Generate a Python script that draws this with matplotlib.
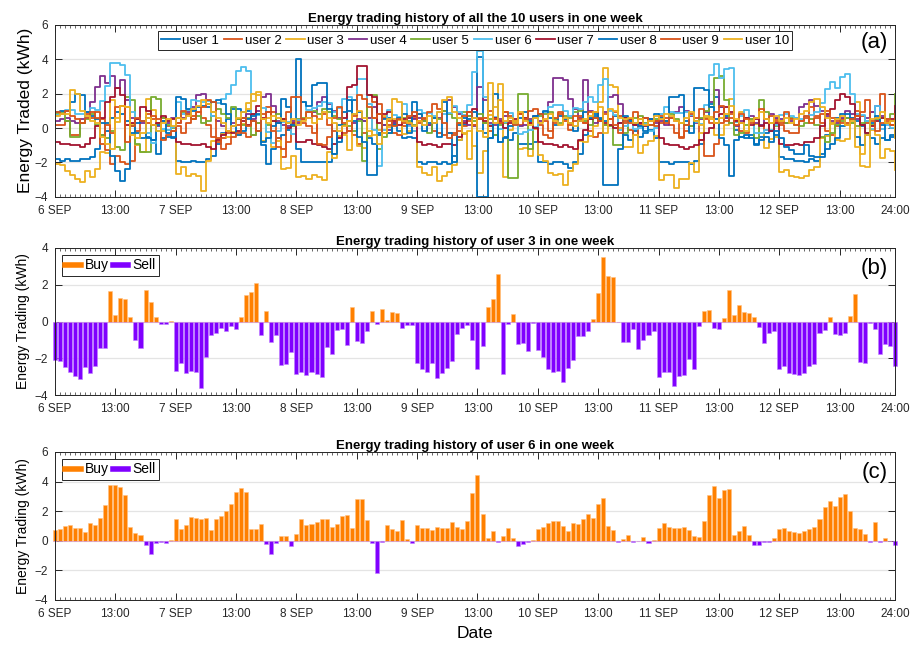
import numpy as np
import matplotlib.pyplot as plt
from matplotlib.lines import Line2D

plt.rcParams['font.family'] = ['Liberation Sans', 'DejaVu Sans']

# ---- data: hourly energy traded (kWh), 6 SEP 00:00 .. 12 SEP 23:00 ----
user3 = [
    -2.09, -2.15, -2.5, -2.73, -2.95, -3.15, -2.5, -2.82, -2.4, -1.42, -1.45, 1.64, 0.33, 1.27, 1.22, 0.25, -1.0, -1.42, 1.69, 1.04, 0.25, -0.15, -0.11, 0.04,
    -2.69, -2.27, -2.8, -2.69, -2.76, -3.64, -1.91, -0.73, -0.64, -0.33, -0.53, -0.25, -0.4, 0.25, 1.45, 1.58, 2.09, -0.75, 0.58, -1.13, -0.75, -2.38, -2.31, -1.64,
    -2.87, -2.76, -2.93, -2.75, -2.84, -3.04, -1.38, -1.76, -0.44, -0.42, -1.29, 0.8, -1.04, -1.18, -0.49, 0.58, -0.13, 0.69, 0.07, 0.53, 0.44, -0.36, -0.2, -0.18,
    -2.27, -2.6, -2.75, -2.25, -3.05, -2.78, -2.55, -2.13, -0.69, -0.33, -0.18, -1.02, -2.6, -1.36, 0.78, 1.24, 2.58, -2.87, -0.11, 0.42, -1.2, -1.16, -1.62, -0.07,
    -1.55, -1.91, -2.6, -2.73, -2.67, -3.29, -2.51, -2.07, -0.78, -0.8, -0.49, 0.11, 1.53, 3.49, 2.47, 2.4, 0.0, -1.09, -1.13, -0.4, -1.47, -1.0, -0.73, -0.49,
    -3.04, -2.75, -2.75, -3.49, -2.95, -2.93, -2.02, -2.58, -0.27, 0.58, 0.64, -0.38, -0.4, 0.2, 1.71, 0.35, 0.91, 0.53, 0.47, 0.25, -0.31, -1.15, -0.64, -0.53,
    -2.58, -2.44, -2.78, -2.87, -2.89, -2.78, -2.42, -2.29, -0.6, -0.47, 0.25, -0.67, -0.76, -0.62, 0.31, 1.49, -2.2, -2.25, -0.09, -0.4, -1.75, -1.2, -1.33, -2.42,
]
user6 = [
    0.73, 0.8, 1.02, 1.07, 0.84, 0.84, 0.59, 1.18, 1.07, 1.55, 2.41, 3.77, 3.77, 3.66, 3.07, 0.93, 0.55, 0.41, -0.27, -0.89, -0.18, -0.07, -0.14, 0.07,
    1.5, 0.8, 1.05, 1.64, 1.57, 1.5, 1.57, 0.7, 1.45, 1.7, 2.0, 2.5, 3.32, 3.55, 3.32, 0.82, 0.77, 1.16, -0.23, -0.89, -0.16, 0.34, 0.32, -0.32,
    0.48, 1.5, 1.07, 1.16, 1.3, 1.48, 1.45, 0.93, 1.14, 1.7, 1.77, 0.84, 2.84, 2.84, 1.39, -0.14, -2.2, -0.09, 1.07, 0.77, 0.64, 1.39, 0.11, -0.18,
    1.05, 0.86, 0.89, 0.7, 0.91, 0.84, 0.89, 1.25, 0.91, 0.77, 1.34, 3.23, 4.45, 1.8, 0.16, 0.66, -0.07, 0.32, 0.89, 0.18, -0.32, -0.23, -0.11, 0.05,
    0.8, 0.93, 1.23, 1.34, 1.34, 1.0, 0.68, 1.18, 1.11, 1.5, 1.82, 1.52, 2.48, 2.86, 1.0, 0.75, -0.09, 0.09, 0.41, -0.07, 0.0, 0.23, -0.16, 0.02,
    0.84, 1.23, 0.95, 0.86, 0.86, 0.91, 0.73, 0.34, 0.25, 1.32, 3.09, 3.7, 2.91, 3.45, 3.48, 0.36, 0.68, 1.02, 0.41, -0.27, -0.27, -0.11, -0.09, 0.16,
    0.77, 0.84, 0.68, 0.59, 0.55, 0.68, 0.77, 0.93, 1.45, 2.25, 2.66, 2.34, 2.98, 3.14, 2.0, 0.84, 0.77, 0.43, -0.05, 1.25, -0.07, 0.2, 0.0, -0.27,
]
user1 = [
    -1.8, -1.9, -1.8, -1.9, -1.9, -1.8, -1.8, -1.7, -1.2, -0.4, 0.3, 0.6, 0.9, 0.8, 0.4, 0.1, -0.3, -0.6, -0.5, -0.7, -1.5, -0.6, -0.5, -0.6,
    -1.9, -2.0, -2.0, -1.9, -2.0, -2.0, -1.8, -1.6, -0.9, -0.3, 0.5, 1.1, 1.1, 0.9, 1.0, 0.4, -0.2, -1.0, -2.1, -1.2, -0.6, -0.4, -0.1, 0.1,
    -1.2, -2.0, -2.0, -2.0, -2.0, -2.0, -2.0, -1.5, -0.8, 0.2, 1.0, 1.6, 0.9, 0.4, -0.6, -0.9, -0.3, 0.2, 0.6, 0.3, -0.2, -0.6, -0.5, -0.6,
    -2.0, -2.1, -2.0, -2.0, -2.1, -2.0, -2.1, -1.6, -0.7, 0.2, 0.7, 0.6, 4.1, -0.3, -0.6, -0.4, -0.8, -0.5, -0.7, -0.3, -0.9, -0.9, -0.9, -0.8,
    -2.0, -2.0, -2.1, -2.0, -2.0, -2.1, -2.3, -2.0, -1.5, -0.4, 0.5, 0.7, 0.6, 0.4, 0.5, 0.7, 0.3, -0.4, -0.7, -0.2, -0.5, -0.3, -0.1, -0.6,
    -2.0, -2.0, -2.1, -2.0, -2.0, -2.0, -2.1, -1.9, -0.9, 0.6, 1.4, 1.8, 1.2, 0.7, 0.3, -0.1, -0.5, -0.6, -0.4, -0.9, -0.5, -0.3, -0.2, -0.4,
    -1.7, -1.8, -1.8, -1.9, -1.9, -2.0, -1.8, -1.9, -1.5, -0.4, 0.3, 0.6, 0.8, 0.6, 0.5, 0.4, 0.1, -0.3, -0.6, -0.9, -0.6, -0.7, -0.5, -0.3,
]
user2 = [
    0.2, 0.2, 0.4, -0.4, -0.4, 0.3, 0.8, 0.6, 0.9, 0.5, -1.3, -2.1, -1.6, -2.0, -2.1, -1.9, -0.2, 0.4, 0.8, 0.5, 0.3, 0.6, 0.1, -0.2,
    0.1, -0.3, 0.3, 0.7, 0.9, 0.6, 0.2, -0.5, -0.8, -0.6, -0.3, 0.1, 0.2, -0.3, -0.5, -0.4, 0.3, 0.8, 1.2, 0.9, -0.6, -1.7, -0.8, 0.2,
    0.4, 0.3, 0.1, -0.3, 0.5, 0.8, 0.2, -0.2, -0.5, -0.3, 0.4, -0.4, -0.9, -0.3, 1.9, 1.5, 1.4, 0.6, 0.2, -0.3, -0.4, 0.1, 0.3, 0.6,
    0.3, 0.5, 0.2, -0.2, -0.3, -0.4, -0.3, -0.3, -0.2, 0.1, 0.4, 0.2, 0.6, 0.3, -0.2, 0.5, 0.3, 0.9, 0.7, 0.4, 0.2, 0.5, 0.3, 0.0,
    0.2, -0.4, -0.6, 0.3, 0.8, 0.5, -0.1, 0.4, 0.7, 0.3, -0.2, -0.5, -0.3, 0.2, 0.5, 0.9, 0.7, 0.3, -0.1, -0.4, 0.2, 0.6, 0.4, 0.1,
    0.3, 0.6, 0.2, -0.3, -0.5, -0.2, 0.1, 0.4, -0.7, -1.6, -1.6, -0.9, 0.3, 0.6, 0.8, 0.4, -0.2, -0.3, 0.5, 0.6, 0.2, -0.1, 0.3, 0.5,
    0.2, -0.2, -0.3, -0.3, 0.4, 0.6, 1.2, 0.7, 0.3, -0.2, -0.4, 0.1, 0.5, 0.3, 0.6, 1.0, 0.7, 0.3, 0.9, 0.6, 2.0, 0.4, 0.2, 0.6,
]
user4 = [
    0.4, 0.5, 0.6, 0.4, 0.3, 0.5, 0.9, 1.5, 2.4, 3.0, 2.6, 3.0, 2.3, 2.8, 1.6, 0.6, 0.5, 0.3, 0.6, 0.2, 0.1, 0.4, 0.3, 0.6,
    0.3, 0.6, 0.9, 1.2, 1.9, 2.0, 1.4, 0.7, 0.4, 0.1, -0.2, 0.3, 0.5, 0.6, 0.8, 0.5, 1.0, 1.8, 2.0, 1.3, 0.4, 0.2, 0.1, 0.4,
    0.3, 0.5, 0.6, 0.9, 1.5, 1.8, 1.4, 1.0, 0.6, 0.2, -0.2, 0.3, 0.5, 0.4, 0.6, 1.2, 0.8, 0.2, -0.1, 0.3, 0.6, 0.4, 0.2, 0.5,
    0.6, 0.4, 0.2, 0.3, 0.6, 1.0, 1.6, 1.2, 0.8, 0.4, 0.2, 0.1, 2.4, 1.6, 0.3, 0.2, 0.5, 0.7, 0.4, 0.3, 0.1, 0.2, 0.5, 0.7,
    0.4, 0.9, 1.5, 2.9, 2.9, 2.8, 1.7, 1.1, 0.6, 2.8, 1.0, 0.3, 0.5, 0.9, 1.8, 1.9, 1.4, 0.6, 0.4, 0.2, 0.3, 0.6, 0.5, 0.3,
    0.4, 0.2, 0.6, 0.9, 1.2, 1.0, 0.7, 0.3, 0.5, 0.9, 1.5, 2.2, 1.2, 0.6, 0.3, 0.1, 0.4, 0.6, 0.7, 0.3, 0.2, 0.5, 0.8, 0.6,
    0.5, 0.3, 0.4, 0.6, 1.2, 1.4, 1.6, 1.3, 1.0, 0.7, 0.4, 0.3, 0.6, 1.0, 0.8, 0.5, 0.2, 0.6, 0.9, 1.3, 0.7, 0.5, 0.4, 0.6,
]
user5 = [
    0.8, 0.9, 0.4, -0.5, -0.5, 0.3, 0.5, 0.8, 0.2, -0.4, -0.6, -0.2, -1.1, -1.3, 1.8, 1.6, -0.9, -1.4, -1.4, 1.8, 1.7, 0.6, 0.2, 0.0,
    0.6, 0.9, 0.8, 0.5, 0.7, 0.3, 0.4, 0.9, 1.1, 0.8, 0.6, 1.2, 0.5, 0.2, 0.6, -0.4, 0.3, 0.5, 0.2, 0.4, 0.8, 0.5, 0.3, 0.1,
    0.5, 0.6, 0.9, 1.0, 0.8, 1.1, 0.9, 0.7, 0.5, 0.2, 0.1, -0.2, 0.4, -1.9, 1.9, 1.9, -1.2, -0.5, -0.3, 0.2, 0.5, 0.6, 0.4, 0.2,
    0.8, 0.4, -0.3, 0.6, 0.5, 1.0, 0.8, 0.6, 0.3, 0.9, 0.7, 0.4, 0.8, 0.3, 0.5, -0.4, 0.2, 0.3, -2.9, -2.9, 2.0, 2.0, -1.2, 0.6,
    0.7, 0.8, 0.9, 0.5, 0.3, 0.7, 0.6, 0.9, 1.0, 0.4, 0.2, 0.6, 0.5, 0.2, 0.1, -1.0, -1.0, -0.3, 0.4, 0.6, 0.7, 0.3, 0.2, 0.5,
    0.6, 0.4, 0.8, 0.5, 0.3, 0.2, 0.1, 0.4, 0.6, 1.0, 1.2, 2.9, 3.0, 1.6, 0.3, -0.4, -0.3, 0.2, 0.5, -0.6, 1.6, 0.9, 0.3, 0.1,
    0.4, 0.3, 0.6, 0.2, 0.1, 0.3, 0.5, 0.2, -0.5, -0.8, -0.3, 0.2, 0.4, 0.6, 0.3, 0.1, 0.3, 0.4, 0.2, 0.5, 0.6, 0.3, 0.8, 2.0,
]
user7 = [
    -0.8, -0.9, -0.9, -1.0, -1.0, -1.1, -0.9, -0.6, 0.1, 0.6, 1.5, 1.8, 2.3, 1.9, 0.2, 0.3, 0.5, 1.2, 1.0, 0.2, 0.3, 0.7, 0.4, 0.5,
    -0.8, -0.9, -0.9, -1.0, -1.0, -0.9, -1.1, -1.2, -0.7, -0.4, -0.2, -0.3, -0.2, 0.4, 0.2, 0.8, 1.3, 0.6, 0.9, 0.4, 0.3, 0.5, 0.0, 0.3,
    -0.8, -0.8, -0.7, -0.9, -1.0, -1.1, -1.2, -0.9, -0.6, 0.6, 2.4, 2.5, 3.6, 3.6, 1.9, 1.8, 0.3, 0.8, 0.9, 0.4, 0.2, 0.5, 0.6, 0.7,
    -0.8, -1.0, -0.9, -1.0, -1.1, -0.9, -0.9, -1.0, -0.5, 0.3, 0.9, 1.1, 0.5, 0.4, 0.1, 0.6, 0.4, 0.0, 0.3, 0.5, 0.8, 0.6, 0.3, 0.0,
    -0.8, -0.9, -0.9, -1.0, -1.1, -1.0, -1.1, -1.2, -0.7, -0.1, 0.5, 0.9, 0.4, 0.3, 0.2, 0.0, 0.3, 0.6, 0.5, 0.2, 0.3, 0.1, 0.5, 0.4,
    -0.6, -0.9, -1.0, -1.0, -1.1, -1.2, -1.1, -1.0, -0.7, -0.3, 0.0, 0.3, 0.8, 1.2, 0.9, 0.4, 0.3, 0.6, 0.2, 0.5, 0.1, 0.3, -0.2, 0.3,
    -0.9, -1.0, -1.0, -0.9, -1.0, -0.8, -0.8, -0.6, 0.1, 0.8, 1.1, 1.6, 2.0, 1.8, 1.4, 0.7, 0.2, -0.3, 0.1, 0.4, 0.6, 0.3, 0.5, 1.3,
]
user8 = [
    0.9, 1.0, 1.0, 1.5, 2.0, 1.9, 0.9, 0.7, 0.5, 0.3, -0.2, -1.6, -2.5, -3.1, -2.4, -0.3, 0.3, 0.4, -0.6, -0.7, 0.2, 0.4, -0.3, -0.5,
    1.8, 1.7, 1.1, 1.0, 1.2, 1.3, 1.2, 1.5, 1.6, 1.4, 0.8, 0.1, -0.4, -0.2, 0.5, 0.7, 0.8, -0.8, -0.6, 0.1, 0.3, 1.7, 1.2, 0.2,
    4.0, 1.5, 1.3, 2.5, 2.6, 2.6, 1.1, -1.5, 0.2, 0.9, 1.6, 0.4, -0.5, -0.8, -2.7, -2.7, -0.4, 0.5, -0.3, 0.2, 0.6, 0.8, -0.3, 1.5,
    0.8, -0.2, 0.3, 0.6, -0.5, 1.5, -0.3, -2.0, 0.2, 0.6, 0.5, 0.9, -4.0, -4.0, -0.6, 2.0, -0.8, -0.6, 0.1, 0.3, 0.6, 0.9, 0.4, 0.7,
    0.8, 1.0, 0.6, 0.2, 0.7, 0.5, 0.3, -0.2, 0.4, 0.9, 0.6, 0.8, 0.5, -3.3, -3.3, -3.3, -1.2, 0.7, 0.4, 0.3, 0.1, -0.2, 0.5, 0.8,
    0.6, 0.4, 1.8, 1.8, 1.9, 0.4, -0.3, 2.3, 2.3, 2.2, 1.2, 0.5, -0.6, -1.0, -2.8, -0.7, -0.5, -0.4, -0.6, -1.0, -0.7, -0.5, -0.8, -0.2,
    -0.6, -1.1, -1.3, -1.5, -1.5, -1.0, -1.6, -1.7, -1.7, -1.2, -0.9, -0.6, 0.1, 0.8, 0.6, -0.5, -1.0, -0.4, 0.3, 0.7, 0.2, -0.7, -0.4, -0.1,
]
user9 = [
    0.9, 0.8, 1.0, 0.7, 0.5, 0.3, 0.6, 0.9, 0.6, -0.9, 0.2, -0.3, 1.2, 1.3, -0.8, 0.1, 0.6, 0.4, 0.3, 0.7, 0.5, -0.7, -0.4, -0.2,
    0.3, 1.0, 0.8, 0.5, 0.9, 1.2, 1.6, 1.5, -0.6, -1.2, -0.9, -0.5, -0.3, 0.6, 0.1, 0.4, -0.2, 0.5, 0.9, -0.2, -1.1, -1.2, 0.9, 1.8,
    1.8, 0.5, 0.9, 0.7, -0.9, -1.0, -0.5, 0.6, 1.2, 0.3, -0.2, 0.7, 1.9, 1.7, 1.2, 0.6, 0.8, -0.3, 0.4, 0.1, 0.5, 0.3, 0.7, 0.9,
    0.4, 0.6, 0.9, 1.4, 1.1, 0.3, -0.6, -0.4, 0.3, 0.7, 0.9, 0.2, 0.5, 0.6, 1.0, 0.5, 0.3, 0.9, 0.4, 0.2, 0.8, 0.5, 1.0, 1.1,
    0.8, 0.4, -0.2, 0.6, 0.9, 0.4, 0.2, 0.7, 0.5, 0.3, 0.9, 0.6, 0.4, 0.8, 0.5, 0.2, -0.3, 0.4, 0.3, 0.9, 0.5, 0.6, 0.2, 0.4,
    0.7, 0.3, 0.6, 0.4, -0.6, 0.2, 0.8, 0.6, 1.1, 0.5, 0.3, 0.9, 1.3, 0.4, 0.6, 0.2, 0.8, 0.5, 0.3, 0.6, 1.1, 0.5, 0.7, 0.4,
    0.3, 0.9, 0.5, 0.2, 0.4, 0.7, 0.3, 0.6, 0.8, 1.0, 0.6, 0.4, 0.3, 0.2, 0.5, 0.7, 0.9, 1.6, 0.4, -0.2, 0.3, 0.5, 0.2, 0.8,
]
user10 = [
    0.7, 0.8, 0.8, 2.2, 2.0, 1.0, 0.7, 0.4, 0.3, -0.5, -0.9, -1.2, 0.6, 1.3, 1.2, -0.4, -0.6, -0.3, 0.6, 0.2, -0.2, 0.3, 0.5, 0.1,
    0.6, 0.5, 0.7, 1.1, 1.3, 1.6, 1.4, 0.9, 0.6, 0.3, -0.2, 0.1, 0.6, 0.9, 1.1, 2.0, 1.9, 0.5, 0.3, 0.7, 0.6, 0.4, 0.3, 0.5,
    0.2, 0.4, 0.6, 0.3, 0.5, 0.9, 0.6, 0.3, -0.2, 0.1, 0.4, 0.8, 1.0, 0.6, -0.2, -0.4, -0.9, -0.3, 0.5, 1.7, 1.5, 0.4, 0.3, 0.1,
    0.4, 0.2, 0.7, 0.3, 0.9, 1.6, 1.8, 0.9, 0.6, -0.3, -1.8, 0.6, -0.2, -0.5, 2.6, 0.3, 1.6, 0.4, 0.6, 0.3, 0.9, 0.4, 0.2, 0.6,
    0.3, 0.5, 0.8, 0.4, 0.2, 0.6, 0.3, 0.1, 0.4, 0.5, 0.7, 0.9, 1.2, -0.3, 1.1, 1.0, 0.6, 0.5, 0.6, 0.3, 0.5, 0.2, 0.4, 0.7,
    0.5, 0.8, 0.7, 0.4, 0.3, 0.6, 0.9, 0.4, 0.2, 0.7, 0.5, 0.3, 0.6, 0.8, 1.3, 0.5, 0.3, -0.2, 0.4, 0.6, 0.9, 0.5, 0.3, 0.7,
    0.4, 0.6, 0.3, 0.5, 0.8, 1.0, 1.5, 1.7, 1.2, 0.6, 0.3, 0.5, 0.7, 0.2, 0.4, -1.1, -1.5, -0.4, 0.5, 0.6, 0.9, 0.3, 0.4, -0.6,
]

users = [user1, user2, user3, user4, user5, user6, user7, user8, user9, user10]
user_names = ['user %d' % i for i in range(1, 11)]
user_colors = ['#0072BD', '#D95319', '#EDB120', '#7E2F8E', '#77AC30',
               '#4DBEEE', '#A2142F', '#0072BD', '#D95319', '#EDB120']

tick_hours = [0, 12, 24, 36, 48, 60, 72, 84, 96, 108, 120, 132, 144, 156, 167]
tick_labels = ['6 SEP', '13:00', '7 SEP', '13:00', '8 SEP', '13:00', '9 SEP', '13:00',
               '10 SEP', '13:00', '11 SEP', '13:00', '12 SEP', '13:00', '24:00']

hours = np.arange(len(user3))
BUY = '#FF8000'
SELL = '#8000FF'
AX_COL = '#262626'


def style_axes(ax, yticks, ylim):
    ax.set_xlim(0, 167)
    ax.set_ylim(*ylim)
    ax.set_yticks(yticks)
    ax.set_xticks(tick_hours)
    ax.set_xticklabels(tick_labels)
    ax.set_xticks(np.arange(0, 168), minor=True)
    ax.tick_params(which='both', direction='in', top=True, right=True,
                   colors=AX_COL, labelsize=8.5, labelcolor='#262626')
    ax.tick_params(which='major', length=5, width=0.7)
    ax.tick_params(which='minor', length=2.5, width=0.5)
    ax.tick_params(axis='x', which='major', pad=6)
    ax.tick_params(axis='y', which='major', pad=5)
    ax.tick_params(axis='y', which='minor', left=False, right=False)
    ax.yaxis.grid(True, color='#e4e4e4', lw=0.9)
    ax.set_axisbelow(True)
    for s in ax.spines.values():
        s.set_color(AX_COL)
        s.set_linewidth(0.7)


fig = plt.figure(figsize=(9.12, 6.54), dpi=100)
L, W = 0.0603, 0.921
ax_a = fig.add_axes([L, 0.6988, W, 0.2637])
ax_b = fig.add_axes([L, 0.396, W, 0.2248])
ax_c = fig.add_axes([L, 0.0826, W, 0.2263])

# (a) all users, stair lines
for vals, name, col in zip(users, user_names, user_colors):
    ax_a.step(hours, vals, where='post', color=col, lw=1.3, label=name)
style_axes(ax_a, [-4, -2, 0, 2, 4, 6], (-4, 6))
ax_a.set_title('Energy trading history of all the 10 users in one week',
               fontsize=9.5, fontweight='bold', pad=2)
ax_a.set_ylabel('Energy Traded (kWh)', fontsize=12.5, labelpad=1)
leg = ax_a.legend(loc='upper center', bbox_to_anchor=(0.5, 0.975), ncol=10,
                  fontsize=9.5, handlelength=1.4, handletextpad=0.2,
                  columnspacing=0.35, borderpad=0.25, borderaxespad=0.2,
                  fancybox=False, framealpha=1)
leg.get_frame().set_edgecolor('#262626')
leg.get_frame().set_linewidth(0.7)
ax_a.text(0.992, 0.955, '(a)', transform=ax_a.transAxes, ha='right', va='top', fontsize=16)


def bar_panel(ax, vals, title, label, yticks, ylim):
    v = np.array(vals)
    ax.bar(hours, np.where(v > 0, v, 0), width=0.8, color=BUY,
           edgecolor='#FFC080', lw=0.4, clip_on=False)
    ax.bar(hours, np.where(v < 0, v, 0), width=0.8, color=SELL,
           edgecolor='#C080FF', lw=0.4, clip_on=False)
    style_axes(ax, yticks, ylim)
    ax.set_title(title, fontsize=9.5, fontweight='bold', pad=2)
    ax.set_ylabel('Energy Trading (kWh)', fontsize=10, labelpad=3)
    handles = [Line2D([], [], color=BUY, lw=4), Line2D([], [], color=SELL, lw=4)]
    lg = ax.legend(handles, ['Buy', 'Sell'], loc='upper left', ncol=2,
                   fontsize=10, handlelength=1.1, handletextpad=0.3,
                   columnspacing=0.3, borderpad=0.25, borderaxespad=0.5,
                   fancybox=False, framealpha=1)
    lg.get_frame().set_edgecolor('#262626')
    lg.get_frame().set_linewidth(0.7)
    ax.text(0.992, 0.93, label, transform=ax.transAxes, ha='right', va='top', fontsize=16)


bar_panel(ax_b, user3, 'Energy trading history of user 3 in one week', '(b)',
          [-4, -2, 0, 2, 4], (-4, 4))
bar_panel(ax_c, user6, 'Energy trading history of user 6 in one week', '(c)',
          [-4, -2, 0, 2, 4, 6], (-4, 6))
ax_c.set_xlabel('Date', fontsize=12.5, labelpad=4)

fig.savefig('out.png', dpi=100)
